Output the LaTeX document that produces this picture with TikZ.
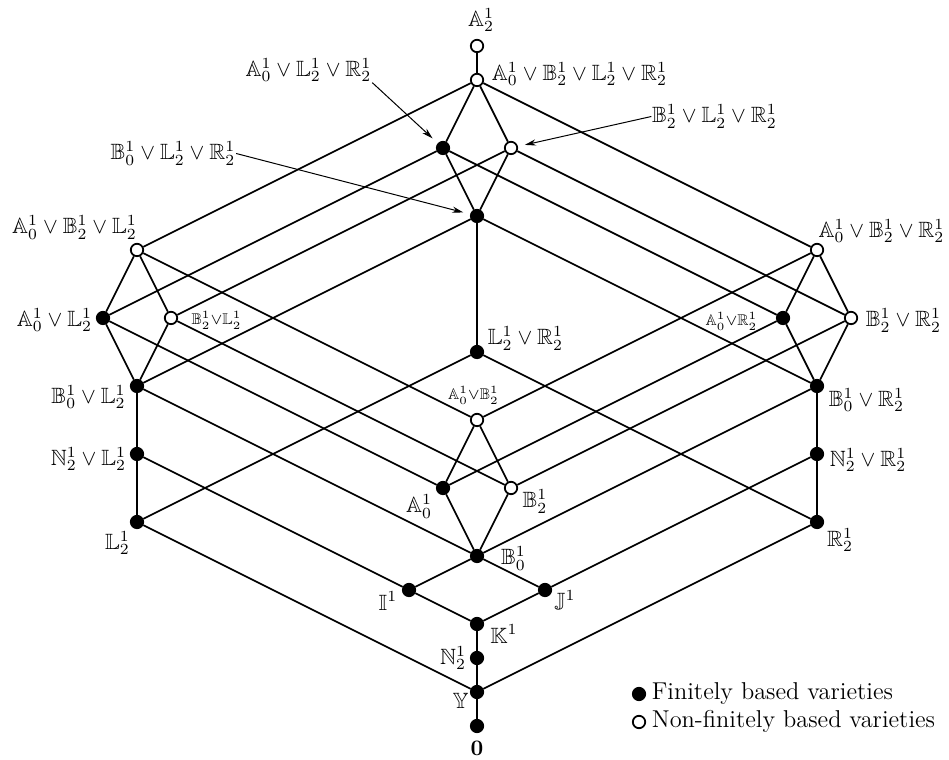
\documentclass[tikz,border=0pt]{standalone}
\usepackage{amsmath,amssymb}
\usepackage{tikz}
\usetikzlibrary{arrows.meta}
\newcommand{\vty}[2]{\mathbb{#1}_{#2}^{1}}
\tikzset{
  fb/.style={circle,draw,fill=black,inner sep=0pt,minimum size=5.6pt},
  nfb/.style={circle,draw,fill=white,inner sep=0pt,minimum size=5.6pt},
  lbl/.style={inner sep=0pt},
  sml/.style={inner sep=0pt,font=\scriptsize},
}

\begin{document}
\begin{tikzpicture}[x=0.4515pt, y=-0.4515pt, >={Stealth[length=5pt,width=2.8pt]}, line width=0.8pt]
    \useasboundingbox (0,0) rectangle (949,760);
    % top diamond
    \node[nfb] (A2) at (477,46) {};
    \node[nfb] (tT) at (477,80) {};
    \node[fb]  (tA) at (443,148) {};
    \node[nfb] (tB) at (511,148) {};
    \node[fb]  (tS) at (477,216) {};
    % left diamond and chain
    \node[nfb] (lT) at (137,250) {};
    \node[fb]  (lA) at (103,318) {};
    \node[nfb] (lB) at (171,318) {};
    \node[fb]  (lS) at (137,386) {};
    \node[fb]  (NL) at (137,454) {};
    \node[fb]  (L)  at (137,522) {};
    % right diamond and chain
    \node[nfb] (rT) at (817,250) {};
    \node[fb]  (rA) at (783,318) {};
    \node[nfb] (rB) at (851,318) {};
    \node[fb]  (rS) at (817,386) {};
    \node[fb]  (NR) at (817,454) {};
    \node[fb]  (R)  at (817,522) {};
    % middle
    \node[fb]  (LR) at (477,352) {};
    \node[nfb] (mT) at (477,420) {};
    \node[fb]  (mA) at (443,488) {};
    \node[nfb] (mB) at (511,488) {};
    \node[fb]  (mS) at (477,556) {};
    \node[fb]  (I)  at (409,590) {};
    \node[fb]  (J)  at (545,590) {};
    \node[fb]  (K)  at (477,624) {};
    \node[fb]  (N)  at (477,658) {};
    \node[fb]  (Y)  at (477,692) {};
    \node[fb]  (zero) at (477,726) {};

    \draw (A2)--(tT);
    \draw (tT)--(tA)--(tS)--(tB)--(tT);
    \draw (lT)--(lA)--(lS)--(lB)--(lT);
    \draw (rT)--(rA)--(rS)--(rB)--(rT);
    \draw (mT)--(mA)--(mS)--(mB)--(mT);
    \draw (lT)--(tT)--(rT)--(mT)--(lT);
    \draw (lA)--(tA)--(rA)--(mA)--(lA);
    \draw (lB)--(tB)--(rB)--(mB)--(lB);
    \draw (lS)--(tS)--(rS)--(mS)--(lS);
    \draw (tS)--(LR); \draw (L)--(LR)--(R);
    \draw (lS)--(NL)--(L)--(Y)--(R)--(NR)--(rS);
    \draw (NL)--(I)--(mS)--(J)--(NR);
    \draw (I)--(K)--(J);
    \draw (K)--(N)--(Y)--(zero);

    \node[lbl] (xA2) at (481,20) {$\vty{A}{2}$};
    \node[lbl] (xtT) at (579.5,74) {$\vty{A}{0}\vee\vty{B}{2}\vee\vty{L}{2}\vee\vty{R}{2}$};
    \node[lbl] (xtA) at (308.5,70) {$\vty{A}{0}\vee\vty{L}{2}\vee\vty{R}{2}$};
    \node[lbl] (xtS) at (173,153.5) {$\vty{B}{0}\vee\vty{L}{2}\vee\vty{R}{2}$};
    \node[lbl] (xtB) at (714.5,116.5) {$\vty{B}{2}\vee\vty{L}{2}\vee\vty{R}{2}$};
    \draw[->,line width=0.45pt,shorten >=3.2pt] (xtA.south east)--(tA);
    \draw[->,line width=0.45pt,shorten >=3.2pt] (xtS.east)--(tS);
    \draw[->,line width=0.45pt,shorten >=3.2pt] (xtB.west)--(tB);

    \node[lbl] (xlT) at (74.5,227.5) {$\vty{A}{0}\vee\vty{B}{2}\vee\vty{L}{2}$};
    \node[lbl] (xlA) at (54.5,320) {$\vty{A}{0}\vee\vty{L}{2}$};
    \node[sml] (xlB) at (216.5,320) {$\vty{B}{2}{\vee}\vty{L}{2}$};
    \node[lbl] (xlS) at (88.5,397) {$\vty{B}{0}\vee\vty{L}{2}$};
    \node[lbl] (xNL) at (88.5,459) {$\vty{N}{2}\vee\vty{L}{2}$};
    \node[lbl] (xL)  at (117.5,543) {$\vty{L}{2}$};

    \node[lbl] (xrT) at (881.5,231) {$\vty{A}{0}\vee\vty{B}{2}\vee\vty{R}{2}$};
    \node[sml] (xrA) at (731.5,321) {$\vty{A}{0}{\vee}\vty{R}{2}$};
    \node[lbl] (xrB) at (903.5,320.5) {$\vty{B}{2}\vee\vty{R}{2}$};
    \node[lbl] (xrS) at (866.5,400) {$\vty{B}{0}\vee\vty{R}{2}$};
    \node[lbl] (xNR) at (868,460) {$\vty{N}{2}\vee\vty{R}{2}$};
    \node[lbl] (xR)  at (840,540) {$\vty{R}{2}$};

    \node[lbl] (xLR) at (525.5,338.5) {$\vty{L}{2}\vee\vty{R}{2}$};
    \node[sml] (xmT) at (473.5,395) {$\vty{A}{0}{\vee}\vty{B}{2}$};
    \node[lbl] (xmA) at (419,506.5) {$\vty{A}{0}$};
    \node[lbl] (xmB) at (535,501.5) {$\vty{B}{2}$};
    \node[lbl] (xmS) at (513.5,558.5) {$\vty{B}{0}$};
    \node[lbl] (xI)  at (388,601) {$\mathbb{I}^1$};
    \node[lbl] (xJ)  at (565,601.5) {$\mathbb{J}^1$};
    \node[lbl] (xK)  at (504,634) {$\mathbb{K}^1$};
    \node[lbl] (xN)  at (453,658) {$\vty{N}{2}$};
    \node[lbl] (xY)  at (460.5,700.5) {$\mathbb{Y}$};
    \node[lbl] (xzero) at (477,748.5) {$\mathbf{0}$};

    % legend
    \node[fb]  (key1) at (639,694) {};
    \node[nfb] (key2) at (639,722) {};
    \node[lbl,anchor=base west,font=\fontsize{11}{13}\selectfont] (txt1) at (651,699) {Finitely based varieties};
    \node[lbl,anchor=base west,font=\fontsize{11}{13}\selectfont] (txt2) at (651,727) {Non-finitely based varieties};
\end{tikzpicture}
\end{document}
